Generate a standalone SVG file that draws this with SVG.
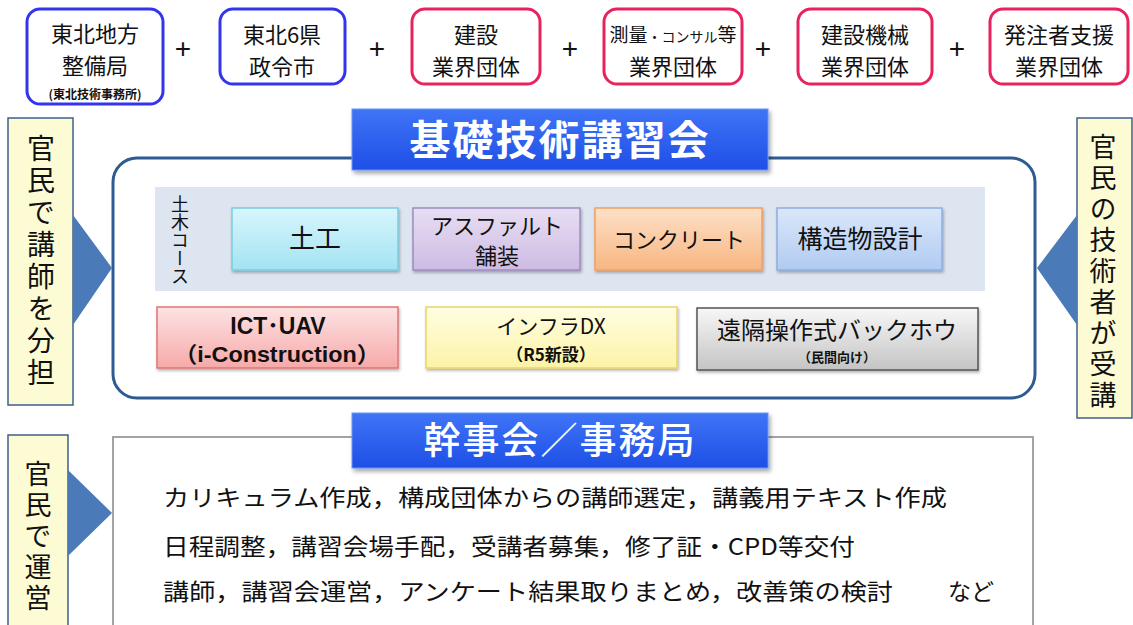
<svg xmlns="http://www.w3.org/2000/svg" width="1133" height="625" viewBox="0 0 1133 625">
<style>
.jp{font-family:"Noto Sans CJK JP","Noto Sans",sans-serif;fill:#111}
.top{font-size:22px;text-anchor:middle}
.plus{font-family:"Liberation Sans",sans-serif;font-size:28px;text-anchor:middle;fill:#111}
.bl{fill:#fff;stroke:#3434ee;stroke-width:3}
.rd{fill:#fff;stroke:#e8225e;stroke-width:3}
.lab{fill:#fdfbd3;stroke:#3e5f8c;stroke-width:1.5}
.tri{fill:#4a7ab8}
.vt{writing-mode:vertical-rl;text-anchor:middle;letter-spacing:4px}
.ban{fill:url(#gb);stroke:#6d93f5;stroke-width:1;filter:url(#sh)}
.bt{font-family:"Noto Sans CJK JP",sans-serif;fill:#fff;text-anchor:middle}
.cbox{stroke-width:1.5;filter:url(#sh2)}
.ct{text-anchor:middle}
.en{font-family:"Liberation Sans","Noto Sans CJK JP",sans-serif;font-weight:bold;text-anchor:middle;fill:#111}
.body{font-family:"Noto Sans CJK JP",sans-serif;font-size:23px;fill:#111}
</style>
<defs>
<linearGradient id="gb" x1="0" y1="0" x2="0" y2="1"><stop offset="0" stop-color="#3f74f7"/><stop offset="1" stop-color="#1f4fe6"/></linearGradient>
<linearGradient id="g1" x1="0" y1="0" x2="0" y2="1"><stop offset="0" stop-color="#d8f6fc"/><stop offset="1" stop-color="#a3e3f3"/></linearGradient>
<linearGradient id="g2" x1="0" y1="0" x2="0" y2="1"><stop offset="0" stop-color="#e8def3"/><stop offset="1" stop-color="#cdbbe3"/></linearGradient>
<linearGradient id="g3" x1="0" y1="0" x2="0" y2="1"><stop offset="0" stop-color="#fde0c7"/><stop offset="1" stop-color="#f8b682"/></linearGradient>
<linearGradient id="g4" x1="0" y1="0" x2="0" y2="1"><stop offset="0" stop-color="#dae7fa"/><stop offset="1" stop-color="#b0cbf2"/></linearGradient>
<linearGradient id="g5" x1="0" y1="0" x2="0" y2="1"><stop offset="0" stop-color="#fde3e3"/><stop offset="1" stop-color="#f7a9a9"/></linearGradient>
<linearGradient id="g6" x1="0" y1="0" x2="0" y2="1"><stop offset="0" stop-color="#fffde2"/><stop offset="1" stop-color="#fdf3a6"/></linearGradient>
<linearGradient id="g7" x1="0" y1="0" x2="0" y2="1"><stop offset="0" stop-color="#f7f7f7"/><stop offset="1" stop-color="#c4c4c4"/></linearGradient>
<filter id="sh" x="-5%" y="-10%" width="115%" height="140%"><feDropShadow dx="2" dy="3" stdDeviation="2" flood-color="#000" flood-opacity="0.35"/></filter>
<filter id="sh2" x="-5%" y="-10%" width="115%" height="140%"><feDropShadow dx="1" dy="2" stdDeviation="1.5" flood-color="#000" flood-opacity="0.3"/></filter>
</defs>
<rect width="1133" height="625" fill="#fff"/>

<!-- top organisations -->
<g id="org1"><rect class="bl" x="27" y="9" width="136" height="95" rx="13"/>
<text class="jp top" x="95" y="42">東北地方</text><text class="jp top" x="95" y="74">整備局</text>
<text class="jp" x="95" y="99" style="font-size:12px;font-weight:bold;text-anchor:middle">(東北技術事務所)</text></g>
<text class="plus" x="183" y="58">+</text>
<g id="org2"><rect class="bl" x="220" y="9" width="125" height="75" rx="13"/>
<text class="jp top" x="282" y="43">東北6県</text><text class="jp top" x="282" y="75">政令市</text></g>
<text class="plus" x="377" y="58">+</text>
<g id="org3"><rect class="rd" x="412" y="9" width="128" height="75" rx="13"/>
<text class="jp top" x="476" y="43">建設</text><text class="jp top" x="476" y="75">業界団体</text></g>
<text class="plus" x="570" y="58">+</text>
<g id="org4"><rect class="rd" x="604" y="9" width="138" height="75" rx="13"/>
<text class="jp" x="673" y="42" style="font-size:19px;text-anchor:middle">測量<tspan style="font-size:14px">・コンサル</tspan>等</text><text class="jp top" x="673" y="75">業界団体</text></g>
<text class="plus" x="763" y="58">+</text>
<g id="org5"><rect class="rd" x="798" y="9" width="134" height="75" rx="13"/>
<text class="jp top" x="865" y="43">建設機械</text><text class="jp top" x="865" y="75">業界団体</text></g>
<text class="plus" x="957" y="58">+</text>
<g id="org6"><rect class="rd" x="990" y="9" width="138" height="75" rx="13"/>
<text class="jp top" x="1059" y="43">発注者支援</text><text class="jp top" x="1059" y="75">業界団体</text></g>

<!-- main course frame -->
<g id="course">
<rect x="113" y="158" width="922" height="240" rx="24" fill="#fff" stroke="#2e5b91" stroke-width="3"/>
<rect x="155" y="187" width="830" height="104" fill="#dde5f0"/>
<text class="jp" x="180" y="240" style="writing-mode:vertical-rl;text-anchor:middle;font-size:18px">土木コース</text>
</g>
<g id="title1"><rect class="ban" x="352" y="109" width="416" height="61"/>
<text class="bt" x="560" y="155" style="font-size:41px;font-weight:bold;letter-spacing:2px">基礎技術講習会</text></g>

<g id="c-doko"><rect class="cbox" x="232" y="208" width="166" height="62" fill="url(#g1)" stroke="#7ccbe0"/>
<text class="jp ct" x="315" y="248" style="font-size:26px">土工</text></g>
<g id="c-asphalt"><rect class="cbox" x="413" y="208" width="167" height="62" fill="url(#g2)" stroke="#9c8cc0"/>
<text class="jp ct" x="497" y="234" style="font-size:22px">アスファルト</text><text class="jp ct" x="497" y="264" style="font-size:22px">舗装</text></g>
<g id="c-concrete"><rect class="cbox" x="595" y="208" width="167" height="62" fill="url(#g3)" stroke="#f0a060"/>
<text class="jp ct" x="679" y="248" style="font-size:22px">コンクリート</text></g>
<g id="c-struct"><rect class="cbox" x="777" y="208" width="165" height="62" fill="url(#g4)" stroke="#8eaee0"/>
<text class="jp ct" x="860" y="248" style="font-size:25px">構造物設計</text></g>

<g id="c-ict"><rect class="cbox" x="157" y="307" width="241" height="61" fill="url(#g5)" stroke="#e07575"/>
<text class="en" x="278" y="334" style="font-size:23px">ICT･UAV</text>
<text class="en" x="277" y="362" style="font-size:22px" textLength="206" lengthAdjust="spacingAndGlyphs">（i-Construction）</text></g>
<g id="c-dx"><rect class="cbox" x="426" y="307" width="251" height="61" fill="url(#g6)" stroke="#e8d56a"/>
<text class="jp ct" x="551" y="334" style="font-size:21px">インフラDX</text>
<text class="jp ct" x="551" y="361" style="font-size:17px;font-weight:bold">（R5新設）</text></g>
<g id="c-remote"><rect class="cbox" x="697" y="308" width="281" height="62" fill="url(#g7)" stroke="#555"/>
<text class="jp ct" x="837" y="339" style="font-size:24px">遠隔操作式バックホウ</text>
<text class="jp ct" x="837" y="362" style="font-size:13px;font-weight:bold">（民間向け）</text></g>

<!-- side labels -->
<g id="lab-left"><rect class="lab" x="8" y="118" width="65" height="287"/>
<text class="jp vt" x="41" y="262" style="font-size:28px">官民で講師を分担</text></g>
<g id="lab-right"><rect class="lab" x="1077" y="118" width="55" height="300"/>
<text class="jp vt" x="1103" y="273" style="font-size:27px">官民の技術者が受講</text></g>
<g id="lab-bottom"><rect class="lab" x="8" y="435" width="60" height="200"/>
<text class="jp vt" x="38" y="538" style="font-size:27px">官民で運営</text></g>

<!-- secretariat -->
<g id="secretariat">
<rect x="113" y="437" width="920" height="200" fill="#fff" stroke="#a3a3a3" stroke-width="2"/>
<text class="body" x="163" y="506" textLength="784" lengthAdjust="spacingAndGlyphs">カリキュラム作成，構成団体からの講師選定，講義用テキスト作成</text>
<text class="body" x="163" y="555" textLength="692" lengthAdjust="spacingAndGlyphs">日程調整，講習会場手配，受講者募集，修了証・CPD等交付</text>
<text class="body" x="163" y="600" textLength="730" lengthAdjust="spacingAndGlyphs">講師，講習会運営，アンケート結果取りまとめ，改善策の検討</text>
<text class="body" x="948" y="600">など</text>
</g>
<g id="title2"><rect class="ban" x="352" y="413" width="416" height="55"/>
<text class="bt" x="560" y="454" style="font-size:37px;font-weight:500;letter-spacing:2px">幹事会／事務局</text></g>

<!-- connectors -->
<g id="connectors">
<polygon class="tri" points="73,215 112,268 73,325"/>
<polygon class="tri" points="1077,215 1037,268 1077,325"/>
<polygon class="tri" points="68,470 112,513 68,556"/>
</g>
</svg>
